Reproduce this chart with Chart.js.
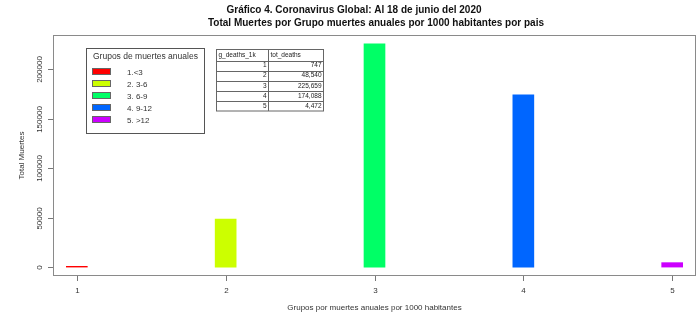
<!DOCTYPE html>
<html lang="es">
<head>
  <meta charset="UTF-8">
  <title>Total Muertes por Grupo</title>
  <script src="https://cdn.jsdelivr.net/npm/chart.js"></script>
  <style>
    html, body { margin: 0; padding: 0; background: #fff; }
    .chart-box { position: relative; width: 700px; height: 318px; }
  </style>
</head>
<body>
  <div class="chart-box">
    <canvas id="muertesChart"></canvas>
  </div>

  <script>
    // data
    var grupos = [1, 2, 3, 4, 5];
    var totMuertes = [747, 48540, 225659, 174088, 4472];
    var leyenda = ['1.<3', '2. 3-6', '3. 6-9', '4. 9-12', '5. >12'];
    var colores = ['#FF0000', '#CCFF00', '#00FF66', '#0066FF', '#CC00FF'];
    var yTicks = [0, 50000, 100000, 150000, 200000];
    var xTicks = [1, 2, 3, 4, 5];
    var titulo = ['Gráfico 4. Coronavirus Global: Al 18 de junio del 2020',
                  'Total Muertes por Grupo muertes anuales por 1000 habitantes por pais'];
    var tablaCols = ['g_deaths_1k', 'tot_deaths'];

    var FONT = '"Liberation Sans", Arial, sans-serif';

    // R style box, axes, title, legend and table
    var rDecor = {
      id: 'rDecor',
      afterDraw: function(chart) {
        var ctx = chart.ctx;
        var a = chart.chartArea;
        var xs = chart.scales.x, ys = chart.scales.y;
        ctx.save();

        // box
        ctx.strokeStyle = '#8a8a8a';
        ctx.lineWidth = 1;
        ctx.strokeRect(a.left + 0.5, a.top + 0.5, a.right - a.left - 1, a.bottom - a.top - 1);

        // y axis
        ctx.strokeStyle = '#777';
        ctx.fillStyle = '#333';
        ctx.font = '8px ' + FONT;
        ctx.textAlign = 'center';
        ctx.textBaseline = 'middle';
        yTicks.forEach(function(v) {
          var y = Math.round(ys.getPixelForValue(v)) + 0.5;
          ctx.beginPath();
          ctx.moveTo(a.left - 5, y);
          ctx.lineTo(a.left, y);
          ctx.stroke();
          ctx.save();
          ctx.translate(a.left - 13, y);
          ctx.rotate(-Math.PI / 2);
          ctx.fillText(String(v), 0, 0);
          ctx.restore();
        });
        ctx.save();
        ctx.translate(22, (a.top + a.bottom) / 2);
        ctx.rotate(-Math.PI / 2);
        ctx.fillText('Total Muertes', 0, 0);
        ctx.restore();

        // x axis
        xTicks.forEach(function(v) {
          var x = Math.round(xs.getPixelForValue(v)) + 0.5;
          ctx.beginPath();
          ctx.moveTo(x, a.bottom);
          ctx.lineTo(x, a.bottom + 5);
          ctx.stroke();
          ctx.fillText(String(v), x, a.bottom + 15);
        });
        ctx.fillText('Grupos por muertes anuales por 1000 habitantes', (a.left + a.right) / 2, 308);

        // title
        ctx.fillStyle = '#111';
        ctx.font = 'bold 10px ' + FONT;
        ctx.fillText(titulo[0], 354, 10);
        ctx.fillText(titulo[1], 376, 23);

        // legend
        ctx.strokeStyle = '#555';
        ctx.strokeRect(86.5, 48.5, 118, 85);
        ctx.fillStyle = '#333';
        ctx.font = '8.5px ' + FONT;
        ctx.textAlign = 'left';
        ctx.fillText('Grupos de muertes anuales', 93, 57);
        ctx.font = '8px ' + FONT;
        leyenda.forEach(function(lbl, i) {
          var y = 72 + i * 12;
          ctx.fillStyle = colores[i];
          ctx.fillRect(92, y - 3, 18, 6);
          ctx.strokeStyle = '#666';
          ctx.strokeRect(92.5, y - 3.5, 18, 6);
          ctx.fillStyle = '#333';
          ctx.fillText(lbl, 127, y + 0.5);
        });

        // data table
        var tx0 = 216.5, tx1 = 268.5, tx2 = 323.5, ty0 = 49.5, rowH = 10.1, headH = 11;
        ctx.strokeStyle = '#666';
        ctx.strokeRect(tx0, ty0, tx2 - tx0, headH + rowH * grupos.length);
        ctx.beginPath();
        ctx.moveTo(tx1, ty0);
        ctx.lineTo(tx1, ty0 + headH + rowH * grupos.length);
        for (var r = 0; r < grupos.length; r++) {
          var ly = Math.round(ty0 + headH + r * rowH) + 0.5;
          ctx.moveTo(tx0, ly);
          ctx.lineTo(tx2, ly);
        }
        ctx.stroke();
        ctx.fillStyle = '#222';
        ctx.font = '6.5px ' + FONT;
        ctx.textAlign = 'left';
        ctx.fillText(tablaCols[0], tx0 + 2, ty0 + 5.5);
        ctx.fillText(tablaCols[1], tx1 + 2, ty0 + 5.5);
        ctx.textAlign = 'right';
        grupos.forEach(function(g, i) {
          var cy = ty0 + headH + i * rowH + rowH / 2;
          ctx.fillText(String(g), tx1 - 2, cy);
          ctx.fillText(totMuertes[i].toLocaleString('en-US'), tx2 - 2, cy);
        });

        ctx.restore();
      }
    };

    var ctx = document.getElementById('muertesChart').getContext('2d');
    var muertesChart = new Chart(ctx, {
      type: 'bar',
      data: {
        datasets: [{
          data: grupos.map(function(g, i) { return { x: g, y: totMuertes[i] }; }),
          backgroundColor: colores,
          borderWidth: 0,
          barThickness: 21
        }]
      },
      options: {
        responsive: true,
        maintainAspectRatio: false,
        animation: false,
        layout: { padding: { left: 53, right: 4, top: 35, bottom: 42 } },
        plugins: {
          legend: { display: false },
          tooltip: { enabled: false }
        },
        scales: {
          x: { type: 'linear', display: false, min: 0.84, max: 5.16, offset: false },
          y: { display: false, min: -9026, max: 234685 }
        }
      },
      plugins: [rDecor]
    });
  </script>
</body>
</html>
